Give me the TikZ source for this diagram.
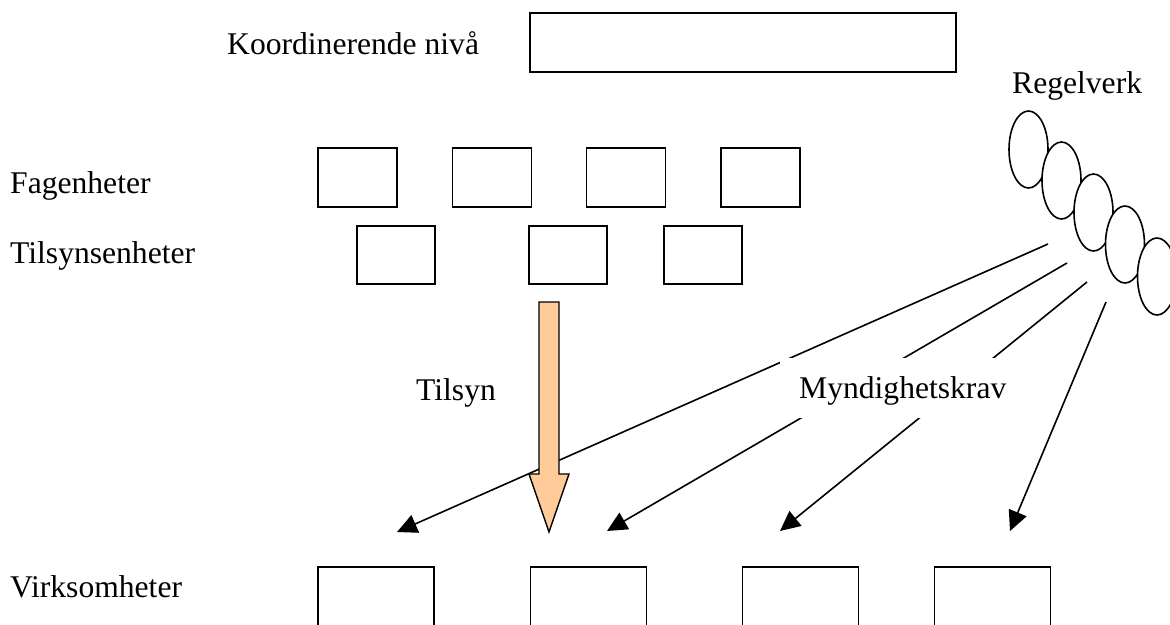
\documentclass[tikz,border=0pt]{standalone}
\usepackage{fontspec}
\setmainfont{Liberation Serif}
\usetikzlibrary{arrows.meta,shapes.geometric}
\definecolor{peach}{RGB}{255,204,153}
\begin{document}
\begin{tikzpicture}[x=1pt,y=-1pt,
  box/.style={draw,line width=1.8pt,inner sep=0pt},
  lbl/.style={anchor=base west,inner sep=0pt,font=\fontsize{31.6}{38}\selectfont},
  reg/.style={draw,fill=white,ellipse,line width=1.6pt,minimum width=39pt,minimum height=77pt,inner sep=0pt},
  krav/.style={line width=1.6pt,-{Triangle[length=20pt,width=19pt]}}]
\useasboundingbox (0,0) rectangle (1170,624);
\clip (0,0) rectangle (1170,624);
% labels on the left
\node[lbl] (lk) at (227,54) {Koordinerende nivå};
\node[lbl] (lf) at (10,193) {Fagenheter};
\node[lbl] (lt) at (10,263) {Tilsynsenheter};
\node[lbl] (lv) at (10,597) {Virksomheter};
\node[lbl] (lr) at (1012,93) {Regelverk};
% top box
\node[box,minimum width=426pt,minimum height=59pt] (top) at (743,42.5) {};
% Fagenheter
\node[box,minimum width=79pt,minimum height=59pt] (f1) at (357.5,177.5) {};
\node[box,minimum width=79pt,minimum height=59pt] (f2) at (492,177.5) {};
\node[box,minimum width=79pt,minimum height=59pt] (f3) at (626,177.5) {};
\node[box,minimum width=79pt,minimum height=59pt] (f4) at (760.5,177.5) {};
% Tilsynsenheter
\node[box,minimum width=78pt,minimum height=58pt] (t1) at (396,255) {};
\node[box,minimum width=78pt,minimum height=58pt] (t2) at (568,255) {};
\node[box,minimum width=78pt,minimum height=58pt] (t3) at (703,255) {};
% Virksomheter
\node[box,minimum width=116pt,minimum height=113pt] (v1) at (376,623.5) {};
\node[box,minimum width=116pt,minimum height=113pt] (v2) at (588.5,623.5) {};
\node[box,minimum width=116pt,minimum height=113pt] (v3) at (800.5,623.5) {};
\node[box,minimum width=116pt,minimum height=113pt] (v4) at (992.5,623.5) {};
% Regelverk ellipses
\node[reg] (r1) at (1028.5,149.5) {};
\node[reg] (r2) at (1061.5,180.5) {};
\node[reg] (r3) at (1093.5,212.5) {};
\node[reg] (r4) at (1125,244.5) {};
\node[reg] (r5) at (1157,276.5) {};
% Myndighetskrav arrows
\coordinate (s1) at (1048,244);
\coordinate (s2) at (1067,263);
\coordinate (s3) at (1087,282);
\coordinate (s4) at (1106,302);
\coordinate (e1) at (397,532);
\coordinate (e2) at (607,531);
\coordinate (e3) at (780,531);
\coordinate (e4) at (1010,531);
\draw[krav] (s1) -- (e1);
\draw[krav] (s2) -- (e2);
\draw[krav] (s3) -- (e3);
\draw[krav] (s4) -- (e4);
% Tilsyn arrow
\draw[fill=peach,line width=1.4pt,line join=miter] (539,302) -- (559,302) -- (559,474) -- (569,474) -- (549,532) -- (529,474) -- (539,474) -- cycle;
\node[lbl] (ltil) at (416,400) {Tilsyn};
% Myndighetskrav label on white
\node[lbl,fill=white,inner xsep=19pt,inner ysep=0pt,text height=40pt,text depth=20pt,anchor=base west] (lm) at (780,398) {Myndighetskrav};
\end{tikzpicture}
\end{document}
